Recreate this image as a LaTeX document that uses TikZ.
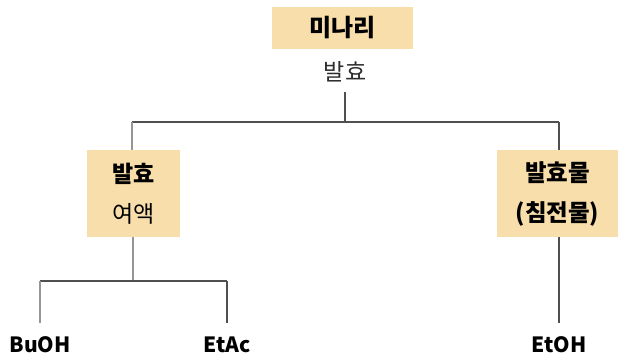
\documentclass[tikz,border=0pt]{standalone}
\usepackage{fontspec}
\setmainfont{Noto Sans CJK KR}
\definecolor{boxfill}{RGB}{248,222,170}
\definecolor{linedark}{RGB}{80,80,80}
\definecolor{linelight}{RGB}{150,150,150}
\definecolor{txtgray}{RGB}{45,45,45}
\begin{document}
\begin{tikzpicture}[x=1pt,y=-1pt,
  boxnode/.style={fill=boxfill, draw=none, inner sep=0pt, align=center},
  leaf/.style={font=\fontsize{21}{24}\selectfont\bfseries, inner sep=0pt, minimum height=44pt, text=black},
  conn/.style={draw=linedark, line width=1.3pt},
  connlight/.style={draw=linelight, line width=1.6pt}]
\useasboundingbox (0,0) rectangle (618,360);
\node[boxnode, minimum width=141pt, minimum height=42pt,
      font=\fontsize{24}{28}\selectfont\bfseries] (minari) at (342.5,28) {미나리};
\node[inner sep=0pt, minimum height=40pt, text=txtgray,
      font=\fontsize{23}{26}\selectfont] (balhyo) at (345,72) {발효};
\coordinate (j0) at (345,122);
\coordinate (hL) at (132,122);
\coordinate (hR) at (559,122);
\node[boxnode, minimum width=93pt, minimum height=87pt,
      font=\fontsize{23}{40}\selectfont] (yeoaek) at (133.5,193.5)
      {\textbf{발효}\\[0pt]여액};
\node[boxnode, minimum width=121pt, minimum height=87pt,
      font=\fontsize{23.5}{40}\selectfont\bfseries] (chimjeon) at (557.5,193.5)
      {발효물\\(침전물)};
\coordinate (j1) at (133,281);
\coordinate (lL) at (40,281);
\coordinate (lR) at (227,281);
\node[leaf] (buoh) at (40,345) {BuOH};
\node[leaf] (etac) at (227,345) {EtAc};
\node[leaf] (etoh) at (559,345) {EtOH};
\draw[conn] (balhyo.south) -- (j0);
\draw[conn] (hL) -- (hR);
\draw[connlight] (hL) -- (hL |- yeoaek.north);
\draw[conn] (hR) -- (hR |- chimjeon.north);
\draw[connlight] (j1 |- yeoaek.south) -- (j1);
\draw[conn] (lL) -- (lR);
\draw[connlight] (lL) -- (buoh.north);
\draw[conn] (lR) -- (etac.north);
\draw[conn] (etoh.north |- chimjeon.south) -- (etoh.north);
\end{tikzpicture}
\end{document}
